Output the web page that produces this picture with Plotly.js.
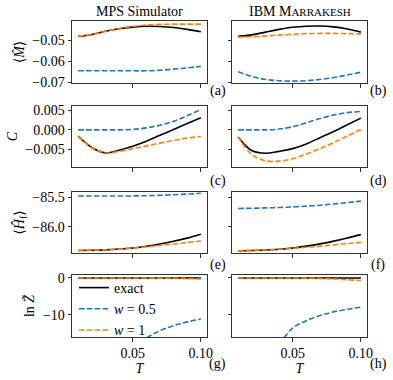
<!DOCTYPE html>
<html lang="en">
<head>
    <meta charset="UTF-8">
    <title>MPS Simulator vs IBM Marrakesh</title>
    <script src="https://cdn.plot.ly/plotly-3.0.1.min.js"></script>
    <style>
        body { margin: 0; background: #fff; }
        #chart { width: 393px; height: 380px; }
    </style>
</head>
<body>
    <div id="chart"></div>
    <script>
        // temperature grid
        const T = [0.01, 0.02, 0.03, 0.04, 0.05, 0.06, 0.07, 0.08, 0.09, 0.10];

        // (a) MPS simulator, <M>
        const mpsM_exact = [-0.0481, -0.0472, -0.0457, -0.0445, -0.0437, -0.0433, -0.0434, -0.0439, -0.0448, -0.0459];
        const mpsM_w05   = [-0.0645, -0.0645, -0.0645, -0.0645, -0.0645, -0.0645, -0.0642, -0.0637, -0.0631, -0.0624];
        const mpsM_w1    = [-0.0481, -0.0472, -0.0457, -0.0444, -0.0434, -0.0427, -0.0424, -0.0423, -0.0423, -0.0423];
        // (b) IBM Marrakesh, <M>
        const ibmM_exact = [-0.0481, -0.0474, -0.0461, -0.0448, -0.0438, -0.0433, -0.0432, -0.0436, -0.0446, -0.0461];
        const ibmM_w05   = [-0.0650, -0.0672, -0.0686, -0.0692, -0.0694, -0.0692, -0.0686, -0.0677, -0.0665, -0.0652];
        const ibmM_w1    = [-0.0484, -0.0483, -0.0479, -0.0475, -0.0471, -0.0468, -0.0467, -0.0467, -0.0468, -0.0470];

        // (c) MPS simulator, C
        const mpsC_exact = [-0.0016, -0.0045, -0.0059, -0.0052, -0.0042, -0.0029, -0.0014, 0.0001, 0.0016, 0.0031];
        const mpsC_w05   = [0.0000, 0.0000, 0.0000, 0.0000, 0.0001, 0.0005, 0.0012, 0.0022, 0.0036, 0.0052];
        const mpsC_w1    = [-0.0016, -0.0045, -0.0059, -0.0055, -0.0048, -0.0041, -0.0034, -0.0027, -0.0021, -0.0017];
        // (d) IBM Marrakesh, C
        const ibmC_exact = [-0.0018, -0.0053, -0.0060, -0.0055, -0.0048, -0.0036, -0.0020, -0.0004, 0.0013, 0.0030];
        const ibmC_w05   = [0.0000, 0.0000, 0.0000, 0.0002, 0.0008, 0.0018, 0.0029, 0.0038, 0.0044, 0.0047];
        const ibmC_w1    = [-0.0018, -0.0063, -0.0079, -0.0080, -0.0074, -0.0062, -0.0048, -0.0033, -0.0016, 0.0001];

        // (e) MPS simulator, <H_f>
        const mpsH_exact = [-86.399, -86.395, -86.388, -86.374, -86.355, -86.327, -86.290, -86.244, -86.190, -86.126];
        const mpsH_w05   = [-85.483, -85.483, -85.483, -85.482, -85.481, -85.477, -85.470, -85.461, -85.450, -85.437];
        const mpsH_w1    = [-86.399, -86.395, -86.388, -86.375, -86.357, -86.337, -86.313, -86.288, -86.263, -86.239];
        // (f) IBM Marrakesh, <H_f>
        const ibmH_exact = [-86.402, -86.398, -86.390, -86.377, -86.355, -86.325, -86.287, -86.240, -86.188, -86.131];
        const ibmH_w05   = [-85.693, -85.688, -85.682, -85.675, -85.666, -85.653, -85.637, -85.617, -85.594, -85.568];
        const ibmH_w1    = [-86.402, -86.398, -86.390, -86.378, -86.362, -86.344, -86.325, -86.304, -86.283, -86.262];

        // (g) MPS simulator, ln Z
        const mpsZ_exact = [0, 0, 0, 0, 0, 0, 0, 0, 0, 0];
        const mpsZ_w05   = [-80, -45, -31, -24, -19.5, -16.3, -14.3, -12.9, -11.9, -11.1];
        const mpsZ_w1    = [0, 0, 0, 0, 0, -0.02, -0.06, -0.12, -0.19, -0.27];
        // (h) IBM Marrakesh, ln Z
        const ibmZ_exact = [0, 0, 0, 0, 0, 0, 0, 0, 0, 0];
        const ibmZ_w05   = [-65, -33, -23, -18, -13.6, -11.6, -10.2, -9.2, -8.5, -7.9];
        const ibmZ_w1    = [0, 0, 0, 0, 0, -0.05, -0.15, -0.3, -0.5, -0.7];

        const xTicks = [0.05, 0.10];
        const seriesNames = ['exact', '<i>w</i> = 0.5', '<i>w</i> = 1'];
        const seriesColors = ['#000000', '#1f77b4', '#ff7f0e'];

        const W = 393, H = 380;
        const px = x => x / W;
        const py = y => 1 - y / H;
        const FONT = 'Liberation Serif, DejaVu Serif, serif';
        const colX = [[72, 207], [232, 367]];
        const rowY = [[21, 83], [106, 167], [192, 253], [275, 337]];

        const rows = [
            { data: [[mpsM_exact, mpsM_w05, mpsM_w1], [ibmM_exact, ibmM_w05, ibmM_w1]],
              range: [-0.0703, -0.0408], ticks: [-0.07, -0.06, -0.05], fmt: '.2f',
              title: '⟨<i>M\u0302</i>⟩', labels: ['(a)', '(b)'], labY: 91 },
            { data: [[mpsC_exact, mpsC_w05, mpsC_w1], [ibmC_exact, ibmC_w05, ibmC_w1]],
              range: [-0.0095, 0.0061], ticks: [-0.005, 0, 0.005], fmt: '.3f',
              title: '<i>C</i>', labels: ['(c)', '(d)'], labY: 181 },
            { data: [[mpsH_exact, mpsH_w05, mpsH_w1], [ibmH_exact, ibmH_w05, ibmH_w1]],
              range: [-86.44, -85.415], ticks: [-86.0, -85.5], fmt: '.1f',
              title: '⟨<i>Ĥ</i><sub>f</sub>⟩', labels: ['(e)', '(f)'], labY: 265 },
            { data: [[mpsZ_exact, mpsZ_w05, mpsZ_w1], [ibmZ_exact, ibmZ_w05, ibmZ_w1]],
              range: [-16.0, 0.8], ticks: [-10, 0], fmt: 'd',
              title: 'ln <i>Z\u0303</i>', labels: ['(g)', '(h)'], labY: 364 }
        ];

        const traces = [];
        const layout = {
            width: W, height: H,
            margin: { l: 0, r: 0, t: 0, b: 0 },
            paper_bgcolor: '#fff', plot_bgcolor: '#fff',
            font: { family: FONT, size: 14, color: '#000' },
            showlegend: true,
            legend: {
                x: px(74), y: py(272), xanchor: 'left', yanchor: 'top',
                bgcolor: 'rgba(255,255,255,0)', borderwidth: 0,
                font: { family: FONT, size: 14 }, tracegroupgap: 0
            },
            annotations: []
        };

        rows.forEach((row, r) => {
            [0, 1].forEach(c => {
                const n = r * 2 + c + 1;
                const xa = n === 1 ? 'xaxis' : 'xaxis' + n;
                const ya = n === 1 ? 'yaxis' : 'yaxis' + n;
                const bottom = r === rows.length - 1;
                layout[xa] = {
                    domain: [px(colX[c][0]), px(colX[c][1])],
                    anchor: n === 1 ? 'y' : 'y' + n,
                    range: [0.0055, 0.1045],
                    tickvals: xTicks, tickformat: '.2f',
                    showticklabels: bottom,
                    ticks: 'outside', ticklen: 3.5, tickwidth: 1, tickcolor: '#333',
                    showline: true, mirror: true, linecolor: '#333', linewidth: 1,
                    showgrid: false, zeroline: false,
                    tickfont: { family: FONT, size: 14 }
                };
                if (bottom) {
                    layout[xa].title = { text: '<i>T</i>', font: { family: FONT, size: 14 }, standoff: 1 };
                }
                layout[ya] = {
                    domain: [py(rowY[r][1]), py(rowY[r][0])],
                    anchor: n === 1 ? 'x' : 'x' + n,
                    range: row.range,
                    tickvals: row.ticks, tickformat: row.fmt,
                    showticklabels: c === 0,
                    ticks: 'outside', ticklen: 3.5, tickwidth: 1, tickcolor: '#333',
                    showline: true, mirror: true, linecolor: '#333', linewidth: 1,
                    showgrid: false, zeroline: false,
                    tickfont: { family: FONT, size: 14 }
                };
                if (c === 0) {
                    layout[ya].title = { text: row.title, font: { family: FONT, size: 14 }, standoff: 4 };
                }
                row.data[c].forEach((ys, s) => {
                    traces.push({
                        x: T, y: ys,
                        xaxis: n === 1 ? 'x' : 'x' + n,
                        yaxis: n === 1 ? 'y' : 'y' + n,
                        mode: 'lines', type: 'scatter',
                        name: seriesNames[s],
                        showlegend: n === 7,
                        hoverinfo: 'skip',
                        line: {
                            color: seriesColors[s], width: 1.6, shape: 'spline',
                            dash: s === 0 ? 'solid' : '5.5px,2.4px'
                        }
                    });
                });
                layout.annotations.push({
                    text: row.labels[c], xref: 'paper', yref: 'paper',
                    x: px(c === 0 ? 218 : 378), y: py(row.labY),
                    xanchor: 'center', yanchor: 'middle', showarrow: false,
                    font: { family: FONT, size: 14 }
                });
            });
        });

        // column titles
        layout.annotations.push({
            text: 'MPS Simulator', xref: 'paper', yref: 'paper',
            x: px(139.5), y: py(12), xanchor: 'center', yanchor: 'middle',
            showarrow: false, font: { family: FONT, size: 14 }
        });
        layout.annotations.push({
            text: 'IBM M<span style="font-size:11px">ARRAKESH</span>', xref: 'paper', yref: 'paper',
            x: px(299.5), y: py(12), xanchor: 'center', yanchor: 'middle',
            showarrow: false, font: { family: FONT, size: 14 }
        });

        Plotly.newPlot('chart', traces, layout, { staticPlot: true });
    </script>
</body>
</html>
